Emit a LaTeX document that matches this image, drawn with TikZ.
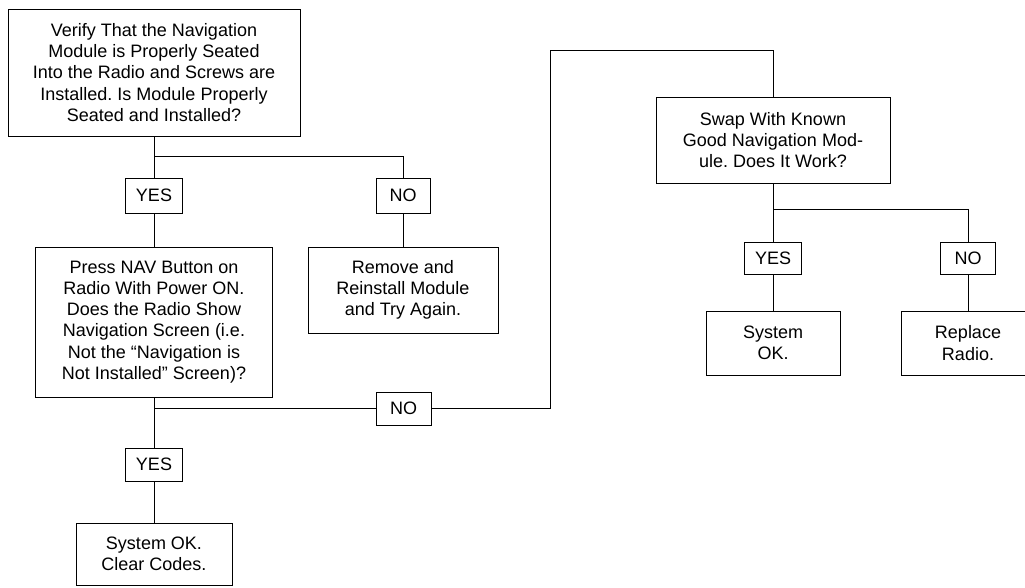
\documentclass[tikz,border=0pt]{standalone}
\usepackage{fontspec}
\setmainfont{Liberation Sans}
\usetikzlibrary{positioning}
\frenchspacing

\begin{document}
\begin{tikzpicture}[
    x=1pt, y=-1pt,
    box/.style={rectangle, draw, line width=0.9pt, align=center, inner sep=0pt, font=\fontsize{18}{21.3}\selectfont},
    answer/.style={rectangle, draw, line width=0.9pt, minimum height=33pt, inner sep=0pt, font=\fontsize{18}{21.3}\selectfont},
    link/.style={line width=0.9pt}
]
\useasboundingbox (0,0) rectangle (1025,587);

\node[box, minimum width=292pt, minimum height=127pt] (verify) at (154,72.5) {Verify That the Navigation\\Module is Properly Seated\\Into the Radio and Screws are\\Installed. Is Module Properly\\Seated and Installed?};
\node[answer, minimum width=57pt, minimum height=35pt] (yes1) at (154,195.5) {YES};
\node[answer, minimum width=54pt, minimum height=35pt] (no1) at (403,195.5) {NO};
\node[box, minimum width=237pt, minimum height=150pt] (press) at (154,322) {Press NAV Button on\\Radio With Power ON.\\Does the Radio Show\\Navigation Screen (i.e.\\Not the ``Navigation is\\Not Installed'' Screen)?};
\node[box, minimum width=190pt, minimum height=86pt] (remove) at (403,290) {Remove and\\Reinstall Module\\and Try Again.};
\node[answer, minimum width=55pt] (no2) at (403.5,408.5) {NO};
\node[answer, minimum width=57pt] (yes2) at (154,464.5) {YES};
\node[box, minimum width=156pt, minimum height=62pt] (done) at (154,554) {System OK.\\Clear Codes.};
\node[box, minimum width=234pt, minimum height=86pt] (swap) at (773,140) {Swap With Known\\Good Navigation Mod-\\ule. Does It Work?};
\node[answer, minimum width=57pt, minimum height=32pt] (yes3) at (773,258) {YES};
\node[answer, minimum width=55pt, minimum height=32pt] (no3) at (968,258) {NO};
\node[box, minimum width=134pt, minimum height=64pt] (sysok) at (773,343) {System\\OK.};
\node[box, minimum width=134pt, minimum height=64pt] (replace) at (968,343) {Replace\\Radio.};

\coordinate (split1) at (154,156);
\coordinate (split2) at (773,209);
\coordinate (turn) at (550,50);

\draw[link] (verify) -- (yes1);
\draw[link] (split1) -| (no1);
\draw[link] (yes1) -- (press);
\draw[link] (no1) -- (remove);
\draw[link] (press) -- (yes2);
\draw[link] (yes2) -- (done);
\draw[link] (press.south |- no2) -- (no2);
\draw[link] (no2) -| (turn) -| (swap);
\draw[link] (swap) -- (yes3);
\draw[link] (split2) -| (no3);
\draw[link] (yes3) -- (sysok);
\draw[link] (no3) -- (replace);
\end{tikzpicture}
\end{document}
